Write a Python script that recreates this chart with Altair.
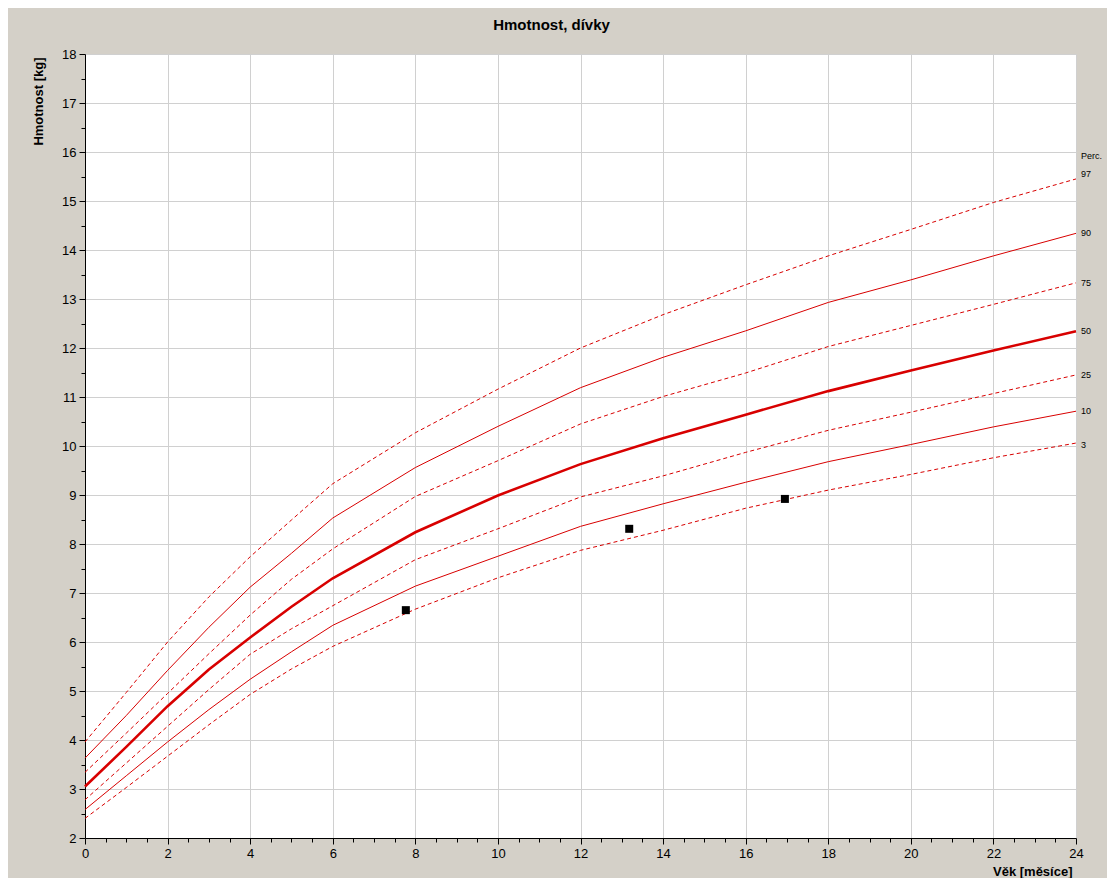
import altair as alt
import pandas as pd

# ---- data ----
months = [0, 1, 2, 3, 4, 5, 6, 8, 10, 12, 14, 16, 18, 20, 22, 24]
p97 = [3.96, 4.97, 6.00, 6.92, 7.74, 8.49, 9.23, 10.27, 11.16, 12.00, 12.68, 13.29, 13.88, 14.42, 14.97, 15.45]
p90 = [3.63, 4.50, 5.42, 6.30, 7.12, 7.81, 8.53, 9.56, 10.40, 11.19, 11.81, 12.35, 12.93, 13.39, 13.88, 14.34]
p75 = [3.34, 4.14, 4.95, 5.76, 6.55, 7.28, 7.90, 8.97, 9.70, 10.45, 11.01, 11.49, 12.03, 12.46, 12.89, 13.33]
p50 = [3.05, 3.86, 4.69, 5.44, 6.09, 6.72, 7.30, 8.24, 8.99, 9.63, 10.16, 10.64, 11.12, 11.54, 11.95, 12.34]
p25 = [2.78, 3.53, 4.28, 5.03, 5.75, 6.27, 6.74, 7.68, 8.31, 8.96, 9.39, 9.87, 10.32, 10.69, 11.07, 11.45]
p10 = [2.58, 3.27, 3.96, 4.62, 5.24, 5.80, 6.34, 7.14, 7.75, 8.36, 8.82, 9.26, 9.68, 10.03, 10.39, 10.71]
p3 = [2.40, 3.03, 3.67, 4.31, 4.93, 5.45, 5.91, 6.67, 7.31, 7.87, 8.28, 8.73, 9.10, 9.42, 9.76, 10.06]

meas_age = [7.77, 13.18, 16.95]
meas_weight = [6.65, 8.31, 8.92]

perc_labels = ["97", "90", "75", "50", "25", "10", "3"]
series = [p97, p90, p75, p50, p25, p10, p3]

rows = []
for lab, vals in zip(perc_labels, series):
    for m, v in zip(months, vals):
        rows.append({"perc": lab, "age": m, "weight": v})
df = pd.DataFrame(rows)
ends = pd.DataFrame({"perc": perc_labels, "age": [months[-1]] * 7, "weight": [s[-1] for s in series]})
meas = pd.DataFrame({"age": meas_age, "weight": meas_weight})

FONT = "Liberation Sans"
RED = "#d80000"

x_ticks = [i * 0.5 for i in range(49)]
y_ticks = [2 + i * 0.5 for i in range(33)]

X = alt.X(
    "age:Q",
    scale=alt.Scale(domain=[0, 24], nice=False, zero=False),
    axis=alt.Axis(
        values=x_ticks,
        title="Věk [měsíce]",
        titleFont=FONT, titleFontSize=13, titleFontWeight="bold", titleColor="black",
        titleAnchor="end", titleAlign="right", titleBaseline="middle",
        titleX=987, titleY=33, titleAngle=0,
        labelExpr="datum.value % 2 === 0 ? format(datum.value, 'd') : ''",
        labelFont=FONT, labelFontSize=13, labelColor="black", labelPadding=3,
        labelFlush=False, labelOverlap=False,
        tickSize={"condition": {"test": "datum.value % 2 === 0", "value": 6}, "value": 4},
        tickColor="black", domainColor="black",
        gridOpacity={"condition": {"test": "datum.value % 2 === 0", "value": 1}, "value": 0},
        gridColor="#d0d0d0",
    ),
)
Y = alt.Y(
    "weight:Q",
    scale=alt.Scale(domain=[2, 18], nice=False, zero=False),
    axis=alt.Axis(
        values=y_ticks,
        title="Hmotnost [kg]",
        titleFont=FONT, titleFontSize=13, titleFontWeight="bold", titleColor="black",
        titleAngle=-90, titleAlign="right", titleBaseline="middle",
        titleX=-47, titleY=3,
        labelExpr="datum.value % 1 === 0 ? format(datum.value, 'd') : ''",
        labelFont=FONT, labelFontSize=13, labelColor="black", labelPadding=3,
        labelFlush=False, labelOverlap=False,
        tickSize={"condition": {"test": "datum.value % 1 === 0", "value": 6}, "value": 4},
        tickColor="black", domainColor="black",
        gridOpacity={"condition": {"test": "datum.value % 1 === 0", "value": 1}, "value": 0},
        gridColor="#d0d0d0",
    ),
)

base = alt.Chart(df)
dashed = base.transform_filter(
    alt.FieldOneOfPredicate(field="perc", oneOf=["97", "75", "25", "3"])
).mark_line(color=RED, strokeWidth=1, strokeDash=[4, 3]).encode(x=X, y=Y, detail="perc:N")
thin = base.transform_filter(
    alt.FieldOneOfPredicate(field="perc", oneOf=["90", "10"])
).mark_line(color=RED, strokeWidth=1).encode(x=X, y=Y, detail="perc:N")
thick = base.transform_filter(
    alt.FieldEqualPredicate(field="perc", equal="50")
).mark_line(color=RED, strokeWidth=2.6).encode(x=X, y=Y)

points = alt.Chart(meas).mark_point(
    shape="square", filled=True, color="black", size=64, opacity=1
).encode(x=X, y=Y)

lab_base = alt.Chart(ends)
labels_mid = lab_base.transform_filter(
    alt.FieldOneOfPredicate(field="perc", oneOf=["90", "75", "50", "25", "10"])
).mark_text(align="left", baseline="middle", dx=5, font=FONT, fontSize=9, color="black").encode(
    x=X, y=Y, text="perc:N"
)
label97 = lab_base.transform_filter(
    alt.FieldEqualPredicate(field="perc", equal="97")
).mark_text(align="left", baseline="middle", dx=5, dy=-5, font=FONT, fontSize=9, color="black").encode(
    x=X, y=Y, text="perc:N"
)
label3 = lab_base.transform_filter(
    alt.FieldEqualPredicate(field="perc", equal="3")
).mark_text(align="left", baseline="middle", dx=5, dy=2, font=FONT, fontSize=9, color="black").encode(
    x=X, y=Y, text="perc:N"
)
perc_title = lab_base.transform_filter(
    alt.FieldEqualPredicate(field="perc", equal="97")
).mark_text(align="left", baseline="middle", dx=5, dy=-23, font=FONT, fontSize=9, color="black").encode(
    x=X, y=Y, text=alt.value("Perc.")
)

chart = alt.layer(dashed, thin, thick, points, labels_mid, label97, label3, perc_title).properties(
    width=991,
    height=784,
    autosize=alt.AutoSizeParams(type="none"),
    padding={"left": 77, "top": 46, "right": 31, "bottom": 40},
    background="#d4d0c8",
    title=alt.TitleParams(
        "Hmotnost, dívky", font=FONT, fontSize=15, fontWeight="bold", color="black",
        anchor="middle", dx=-29, offset=15,
    ),
).configure_view(fill="white", strokeWidth=0)

chart.save("out.html", embed_options={"renderer": "svg", "actions": False})
